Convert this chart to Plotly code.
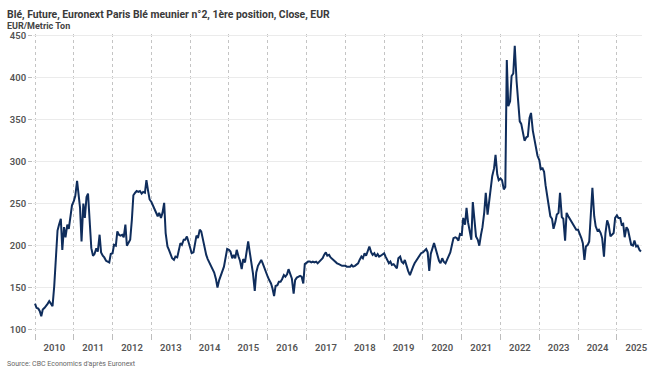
import pandas as pd
import plotly.graph_objects as go

# Semi-monthly closes (1st and 15th of each month), EUR/metric ton
w2010 = [131, 126, 125, 122, 116, 124, 126, 128, 131, 134, 131, 128, 152, 190, 218, 225, 232, 195, 222, 210, 225, 220, 235, 248]
w2011 = [253, 259, 277, 263, 245, 205, 250, 233, 258, 262, 220, 197, 188, 190, 197, 193, 213, 192, 188, 186, 182, 181, 180, 190]
w2012 = [191, 201, 200, 217, 213, 212, 213, 210, 225, 200, 203, 207, 231, 260, 263, 265, 264, 265, 262, 264, 263, 278, 265, 255]
w2013 = [252, 248, 245, 240, 235, 239, 233, 239, 251, 215, 199, 195, 189, 185, 183, 187, 186, 195, 203, 201, 207, 207, 211, 205]
w2014 = [197, 191, 192, 201, 212, 209, 219, 217, 207, 197, 189, 184, 180, 177, 172, 168, 160, 150, 159, 163, 170, 175, 188, 196]
w2015 = [195, 193, 185, 189, 185, 195, 187, 182, 172, 184, 180, 190, 205, 193, 180, 167, 146, 168, 176, 180, 183, 179, 173, 168]
w2016 = [163, 159, 155, 149, 140, 152, 153, 157, 157, 160, 165, 163, 166, 172, 165, 161, 143, 159, 162, 163, 164, 163, 155, 178]
w2017 = [180, 181, 181, 180, 181, 180, 181, 179, 181, 183, 185, 189, 192, 188, 189, 186, 184, 182, 180, 179, 178, 177, 176, 176]
w2018 = [176, 175, 175, 175, 177, 175, 176, 177, 179, 183, 187, 185, 191, 188, 193, 199, 192, 189, 191, 187, 190, 187, 188, 189]
w2019 = [191, 187, 183, 179, 181, 177, 178, 175, 173, 185, 187, 181, 179, 183, 175, 170, 165, 171, 175, 179, 182, 185, 187, 191]
w2020 = [192, 194, 196, 192, 170, 190, 199, 203, 196, 188, 182, 179, 185, 181, 179, 183, 187, 192, 201, 209, 210, 209, 206, 214]
w2021 = [213, 233, 225, 245, 228, 217, 207, 252, 228, 211, 207, 200, 213, 222, 240, 263, 237, 253, 271, 283, 292, 308, 285, 278]
w2022 = [280, 278, 267, 270, 421, 366, 372, 402, 405, 438, 396, 370, 348, 345, 334, 325, 329, 330, 352, 358, 337, 328, 320, 307]
w2023 = [302, 291, 292, 288, 272, 262, 245, 235, 232, 220, 228, 237, 239, 263, 234, 232, 206, 239, 235, 232, 229, 225, 222, 219]
w2024 = [219, 215, 209, 203, 183, 199, 201, 205, 240, 269, 235, 223, 218, 219, 215, 209, 187, 215, 230, 225, 211, 213, 215, 233]
w2025 = [236, 233, 233, 225, 226, 210, 222, 219, 207, 201, 200, 206, 199, 200, 195, 193]

values = (w2010 + w2011 + w2012 + w2013 + w2014 + w2015 + w2016 + w2017
          + w2018 + w2019 + w2020 + w2021 + w2022 + w2023 + w2024 + w2025)
dates = pd.date_range("2010-01-01", periods=len(values), freq="SMS")

title_text = "Blé, Future, Euronext Paris Blé meunier n°2, 1ère position, Close, EUR"
unit_text = "EUR/Metric Ton"
source_text = "Source: CBC Economics d'après Euronext"

W, H = 653, 372
L, R, T, B = 33, 11, 34, 39
pw, ph = W - L - R, H - T - B
FONT = "Roboto"


def px(x):
    return (x - L) / pw


def py(y):
    return (H - B - y) / ph


fig = go.Figure(
    go.Scatter(x=dates, y=values, mode="lines",
               line=dict(color="#0f2d5c", width=2), hoverinfo="skip")
)

fig.update_layout(
    width=W, height=H,
    margin=dict(l=L, r=R, t=T, b=B, pad=0, autoexpand=False),
    paper_bgcolor="white", plot_bgcolor="white",
    showlegend=False,
    font=dict(family=FONT, color="#555555"),
)

fig.update_xaxes(
    type="date", range=["2009-12-13", "2025-08-25"], automargin=False,
    dtick="M12", tick0="2010-01-01", ticklabelmode="period", tickformat="%Y",
    showgrid=True, gridcolor="#c4c4c4", griddash="dot", gridwidth=1,
    ticks="outside", ticklen=6, tickcolor="#bdbdbd", tickwidth=1,
    tickfont=dict(family=FONT, size=9.5, color="#555555", weight=600),
    showline=False, zeroline=False,
)
fig.update_yaxes(
    range=[96, 452], dtick=50, tick0=100, automargin=False,
    showgrid=True, gridcolor="#ebebeb", gridwidth=1,
    ticks="outside", ticklen=4, tickcolor="#bdbdbd",
    tickfont=dict(family=FONT, size=9.5, color="#555555", weight=600),
    showline=False, zeroline=False,
)

fig.add_annotation(text=title_text, xref="paper", yref="paper",
                   x=px(5), y=py(14), xanchor="left", yanchor="middle", showarrow=False,
                   font=dict(family=FONT, size=10.4, color="#3a3a3a", weight=700))
fig.add_annotation(text=unit_text, xref="paper", yref="paper",
                   x=px(5), y=py(26.5), xanchor="left", yanchor="middle", showarrow=False,
                   font=dict(family=FONT, size=9, color="#444444", weight=700))
fig.add_annotation(text=source_text, xref="paper", yref="paper",
                   x=px(5), y=py(364), xanchor="left", yanchor="middle", showarrow=False,
                   font=dict(family=FONT, size=7, color="#666666"))

fig.write_html("out.html", config={"displayModeBar": False},
               post_script="document.body.style.margin='0px';")
